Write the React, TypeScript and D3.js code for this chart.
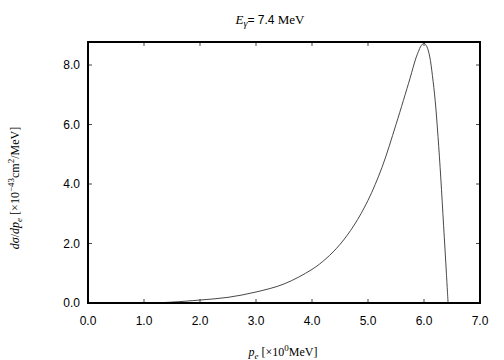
import React from 'react';
import * as d3 from 'd3';

// momentum p_e [MeV]
const pe = [1.15, 1.5, 2.0, 2.5, 3.0, 3.5, 4.0, 4.25, 4.5, 4.75, 5.0, 5.25, 5.5, 5.75, 5.85, 5.9, 5.95, 6.0, 6.05, 6.1, 6.15, 6.2, 6.25, 6.3, 6.35, 6.4, 6.43];
// dsigma/dp_e [1e-43 cm^2/MeV]
const dsig = [0.0, 0.03, 0.1, 0.19, 0.37, 0.64, 1.13, 1.49, 1.97, 2.61, 3.45, 4.56, 6.0, 7.55, 8.2, 8.45, 8.65, 8.73, 8.62, 8.3, 7.65, 6.8, 5.6, 4.2, 2.6, 1.0, 0.0];

const xTicks = [0, 1, 2, 3, 4, 5, 6, 7];
const yTicks = [0, 2, 4, 6, 8];

const W = 504;
const H = 360;
const left = 88;
const right = 480;
const top = 42;
const bottom = 303;

const sans = '"Liberation Sans", Arial, sans-serif';
const serif = '"Liberation Serif", "Times New Roman", serif';

export default function App() {
  const x = d3.scaleLinear().domain([0, 7]).range([left, right]);
  const y = d3.scaleLinear().domain([0, 8]).range([bottom, 65]);

  const pts: [number, number][] = pe.map((v, i) => [v, dsig[i]]);
  const line = d3.line<[number, number]>()
    .x(d => x(d[0]))
    .y(d => y(d[1]))
    .curve(d3.curveCatmullRom.alpha(0.5));

  const tl = 4;

  return (
    <svg width={W} height={H} style={{ position: 'absolute', left: 0, top: 0, background: '#fff' }}>
      <text x={270} y={24} textAnchor="middle" fontSize={12} fill="#000">
        <tspan fontFamily={serif} fontStyle="italic" fontSize={13}>E</tspan>
        <tspan fontFamily={serif} fontStyle="italic" fontSize={10} dy={3}>γ</tspan>
        <tspan fontFamily={sans} dy={-3}>= 7.4 </tspan>
        <tspan fontFamily={serif} fontSize={13}>MeV</tspan>
      </text>

      {/* ticks */}
      {xTicks.slice(1, -1).map(t => (
        <g key={'xt' + t} stroke="#444" strokeWidth={1}>
          <line x1={x(t)} x2={x(t)} y1={bottom} y2={bottom - tl} />
          <line x1={x(t)} x2={x(t)} y1={top} y2={top + tl} />
        </g>
      ))}
      {yTicks.slice(1).map(t => (
        <g key={'yt' + t} stroke="#444" strokeWidth={1}>
          <line x1={left} x2={left + tl} y1={y(t)} y2={y(t)} />
          <line x1={right} x2={right - tl} y1={y(t)} y2={y(t)} />
        </g>
      ))}

      <path d={line(pts) || ''} fill="none" stroke="#333" strokeWidth={0.9} />

      <rect x={left} y={top} width={right - left} height={bottom - top} fill="none" stroke="#000" strokeWidth={2} />

      {xTicks.map(t => (
        <text key={'xl' + t} x={x(t)} y={325} textAnchor="middle" fontFamily={sans} fontSize={12} fill="#000">
          {t.toFixed(1)}
        </text>
      ))}
      {yTicks.map(t => (
        <text key={'yl' + t} x={80} y={y(t) + 4} textAnchor="end" fontFamily={sans} fontSize={12} fill="#000">
          {t.toFixed(1)}
        </text>
      ))}

      <text x={283} y={356} textAnchor="middle" fontFamily={serif} fontSize={12} fill="#000">
        <tspan fontStyle="italic">p</tspan>
        <tspan fontStyle="italic" fontSize={9} dy={3}>e</tspan>
        <tspan dy={-3}> [×10</tspan>
        <tspan fontSize={9} dy={-5}>0</tspan>
        <tspan dy={5}>MeV]</tspan>
      </text>

      <text transform={`translate(19,188) rotate(-90)`} textAnchor="middle" fontFamily={serif} fontSize={12} fill="#000">
        <tspan fontStyle="italic">dσ</tspan>
        <tspan>/</tspan>
        <tspan fontStyle="italic">dp</tspan>
        <tspan fontStyle="italic" fontSize={9} dy={3}>e</tspan>
        <tspan dy={-3}> [×10</tspan>
        <tspan fontSize={9} dy={-5}>−43</tspan>
        <tspan dy={5}>cm</tspan>
        <tspan fontSize={9} dy={-5}>2</tspan>
        <tspan dy={5}>/MeV]</tspan>
      </text>
    </svg>
  );
}
